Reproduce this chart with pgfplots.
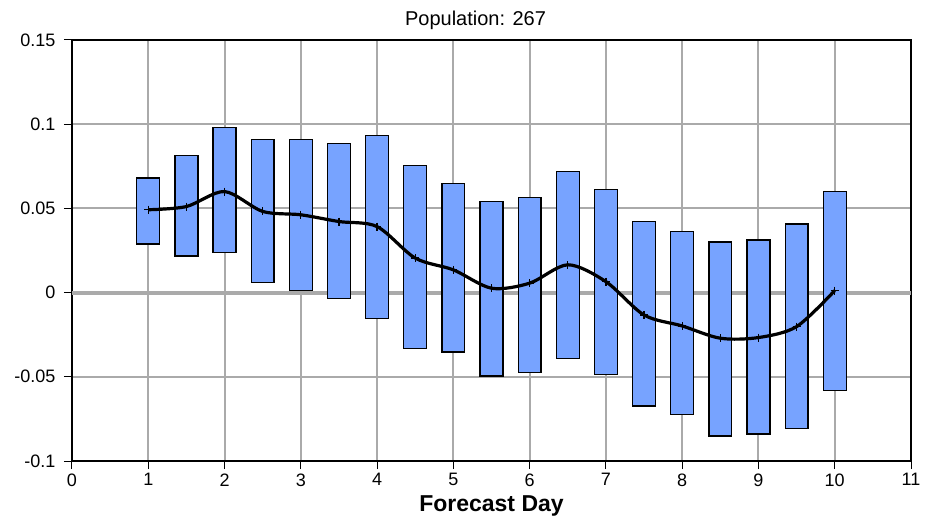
\documentclass[border=0pt]{standalone}
\usepackage{fontspec}
\setmainfont{Liberation Sans}
\usepackage{pgfplots}
\usepackage{pgfplotstable}
\pgfplotsset{compat=1.18}
\definecolor{barblue}{RGB}{119,163,255}
\definecolor{gridgray}{RGB}{170,170,170}

\pgfplotstableread{
x bot top mean
1 0.0288 0.0680 0.0492
1.5 0.0218 0.0813 0.0511
2 0.0240 0.0979 0.0600
2.5 0.0062 0.0908 0.0482
3 0.0014 0.0908 0.0462
3.5 -0.0033 0.0884 0.0422
4 -0.0152 0.0932 0.0392
4.5 -0.0331 0.0755 0.0205
5 -0.0353 0.0648 0.0135
5.5 -0.0495 0.0539 0.0026
6 -0.0473 0.0563 0.0056
6.5 -0.0390 0.0718 0.0165
7 -0.0485 0.0611 0.0065
7.5 -0.0674 0.0422 -0.0133
8 -0.0723 0.0361 -0.0198
8.5 -0.0852 0.0301 -0.0271
9 -0.0840 0.0313 -0.0267
9.5 -0.0806 0.0408 -0.0202
10 -0.0580 0.0599 0.0012
}\data

\begin{document}
\begin{tikzpicture}
\begin{axis}[
  scale only axis, width=839bp, height=421bp,
  xmin=0, xmax=11, ymin=-0.1, ymax=0.15,
  xtick={0,1,2,3,4,5,6,7,8,9,10,11},
  ytick={-0.1,-0.05,0,0.05,0.1,0.15},
  grid=major, grid style={gridgray, line width=2bp},
  axis line style={black, line width=1.2bp},
  tick align=outside, xtick pos=left, ytick pos=left,
  major tick length=8bp, tick style={black, line width=1bp},
  ticklabel style={font=\fontsize{18bp}{20bp}\selectfont},
  /pgf/number format/assume math mode=true,
  scaled y ticks=false,
  yticklabel style={/pgf/number format/fixed, /pgf/number format/precision=2, xshift=-5bp},
  xticklabel style={yshift=-1bp},
  title={Population: 267},
  title style={font=\fontsize{20bp}{22bp}\selectfont, at={(0.5,1)}, anchor=base, yshift=9bp, xshift=-16bp},
  xlabel={Forecast Day},
  xlabel style={font=\fontsize{23bp}{25bp}\selectfont\bfseries, at={(0.5,0)}, anchor=base, yshift=-50bp},
  extra y ticks={0}, extra y tick labels={},
  extra y tick style={grid style={gridgray, line width=4bp}, major tick length=0pt},
  ybar stacked, stack negative=on previous, bar width=0.3,
]
\addplot[draw=none, fill=none] table[x=x, y=bot] {\data};
\addplot[fill=barblue, draw=black, line width=1.3bp] table[x=x, y expr=\thisrow{top}-\thisrow{bot}] {\data};
\end{axis}
\begin{axis}[
  scale only axis, width=839bp, height=421bp,
  xmin=0, xmax=11, ymin=-0.1, ymax=0.15, hide axis,
]
\addplot[black, line width=3.2bp, smooth, tension=0.5, mark=+, mark size=4bp, mark options={line width=1.2bp}] table[x=x, y=mean] {\data};
\end{axis}
\pgfresetboundingbox
\useasboundingbox (-72bp,-56bp) rectangle (854bp,461bp);
\end{tikzpicture}
\end{document}
